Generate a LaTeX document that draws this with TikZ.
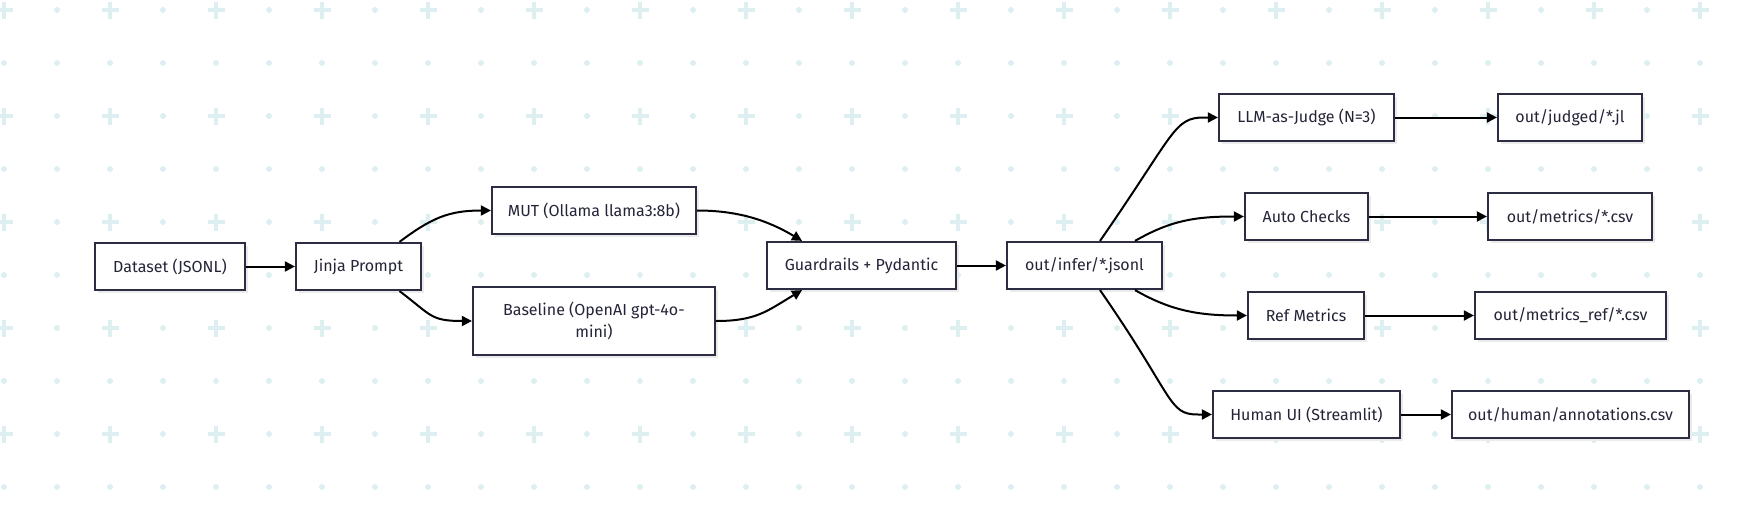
\documentclass[tikz,border=0pt]{standalone}
\usepackage{fontspec}
\setmainfont{Fira Sans}
\usetikzlibrary{arrows.meta,shadows}
\definecolor{gridc}{RGB}{222,239,242}
\definecolor{boxc}{RGB}{44,44,66}
\definecolor{textc}{RGB}{36,36,56}
\tikzset{
  box/.style={draw=boxc, line width=2.2pt, fill=white, text=textc,
    minimum height=47pt, inner sep=0pt, align=center,
    font=\fontsize{16}{22}\selectfont,
    drop shadow={shadow xshift=3pt, shadow yshift=-3pt, fill=black!8, opacity=1}},
  arr/.style={-{Triangle[length=10pt,width=10pt]}, line width=2pt, black},
}
\begin{document}
\begin{tikzpicture}[x=1pt,y=-1pt]
        \useasboundingbox (0,0) rectangle (1738,522);
        % grid of dots and crosses
        \foreach \k in {0,...,32}
        \foreach \j in {0,...,9} {
          \pgfmathtruncatemacro{\ev}{(mod(\k,2)==0 && mod(\j,2)==0) ? 1 : 0}
          \ifnum\ev=1
            \draw[gridc, line width=4pt] (4+53*\k-8.5,10+53*\j) -- (4+53*\k+8.5,10+53*\j);
            \draw[gridc, line width=4pt] (4+53*\k,10+53*\j-8.5) -- (4+53*\k,10+53*\j+8.5);
          \else
            \fill[gridc] (4+53*\k,10+53*\j) circle [radius=3pt];
          \fi
        }
        % input side
        \node[box, minimum width=150pt] (data) at (170,266.5) {Dataset (JSONL)};
        \node[box, minimum width=125pt] (jinja) at (358.5,266.5) {Jinja Prompt};
        \node[box, minimum width=204pt] (mut) at (594,210.5) {MUT (Ollama llama3:8b)};
        \node[box, minimum width=242pt, minimum height=68pt] (base) at (594,321) {Baseline (OpenAI gpt-4o-\\mini)};
        \node[box, minimum width=189pt] (guard) at (861.5,265.5) {Guardrails + Pydantic};
        \node[box, minimum width=155pt] (infer) at (1084.5,265.5) {out/infer/*.jsonl};
        % evaluation
        \node[box, minimum width=175pt] (judge) at (1306.5,117.5) {LLM-as-Judge (N=3)};
        \node[box, minimum width=123pt] (auto) at (1306.5,216.5) {Auto Checks};
        \node[box, minimum width=116pt] (refm) at (1306,315.5) {Ref Metrics};
        \node[box, minimum width=187pt] (human) at (1306.5,414.5) {Human UI (Streamlit)};
        % outputs
        \node[box, minimum width=144pt] (judged) at (1570,117.5) {out/judged/*.jl};
        \node[box, minimum width=164pt] (metrics) at (1570,216.5) {out/metrics/*.csv};
        \node[box, minimum width=191pt] (mref) at (1570.5,315.5) {out/metrics\_ref/*.csv};
        \node[box, minimum width=237pt] (hout) at (1570.5,414.5) {out/human/annotations.csv};
        % connectors
        \draw[arr] (data) -- (jinja);
        \draw[arr] ([xshift=41pt]jinja.north) .. controls +(32,-24) and +(-42,0) .. (mut.west);
        \draw[arr] ([xshift=41pt]jinja.south) .. controls +(32,24) and +(-42,0) .. (base.west);
        \draw[arr] (mut.east) .. controls +(40,0) and +(-35,-21) .. ([xshift=-59.5pt]guard.north);
        \draw[arr] (base.east) .. controls +(40,0) and +(-35,21) .. ([xshift=-59.5pt]guard.south);
        \draw[arr] (guard) -- (infer);
        \draw[arr] ([xshift=15.5pt]infer.north) .. controls +(75,-108) and +(-30,0) .. ([xshift=-14pt]judge.west) -- (judge.west);
        \draw[arr] ([xshift=50.5pt]infer.north) .. controls +(35,-20) and +(-50,0) .. (auto.west);
        \draw[arr] ([xshift=50.5pt]infer.south) .. controls +(35,20) and +(-50,0) .. (refm.west);
        \draw[arr] ([xshift=15.5pt]infer.south) .. controls +(75,108) and +(-30,0) .. ([xshift=-14pt]human.west) -- (human.west);
        \draw[arr] (judge) -- (judged);
        \draw[arr] (auto) -- (metrics);
        \draw[arr] (refm) -- (mref);
        \draw[arr] (human) -- (hout);
\end{tikzpicture}
\end{document}
